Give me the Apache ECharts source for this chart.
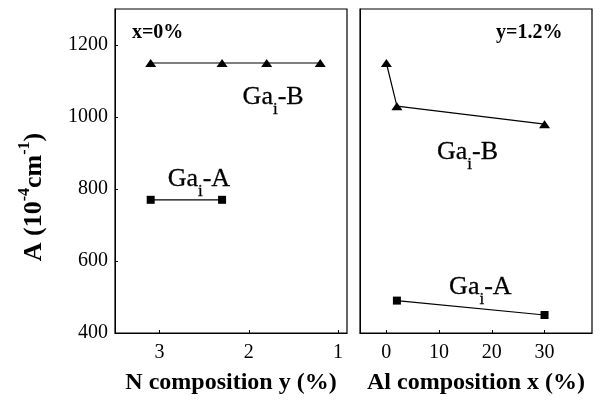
<!DOCTYPE html>
<html><head><meta charset="utf-8">
<script src="https://cdn.jsdelivr.net/npm/echarts@6/dist/echarts.min.js"></script>
<style>html,body{margin:0;padding:0;background:#fff}#c{width:606px;height:406px}</style>
</head><body><div id="c"></div>
<script>
// Left panel: x = 0 %, varying N composition y (%)
const leftB_x = [3.1, 2.3, 1.8, 1.2];
const leftB_y = [1150, 1150, 1150, 1150];
const leftA_x = [3.1, 2.3];
const leftA_y = [770, 770];
// Right panel: y = 1.2 %, varying Al composition x (%)
const rightB_x = [0, 2, 30];
const rightB_y = [1150, 1030, 980];
const rightA_x = [2, 30];
const rightA_y = [490, 450];
const yTicks = [400, 600, 800, 1000, 1200];
const leftXTicks = [3, 2, 1];
const rightXTicks = [0, 10, 20, 30];

const F = 'Liberation Serif';
const zip = (a, b) => a.map((v, i) => [v, b[i]]);
const line = (xi, data, sym, size) => ({
  type: 'line', xAxisIndex: xi, yAxisIndex: xi, data, symbol: sym, symbolSize: size,
  itemStyle: {color: '#000', opacity: 1}, lineStyle: {color: '#000', width: 1.2}, z: 3
});
const gaRich = {
  n: {fontFamily: F, fontSize: 26, color: '#000', lineHeight: 30, verticalAlign: 'bottom',
      textBorderColor: '#000', textBorderWidth: 0.3},
  s: {fontFamily: F, fontSize: 17, color: '#000', lineHeight: 30, verticalAlign: 'bottom', padding: [0, 0, -8, 0],
      textBorderColor: '#000', textBorderWidth: 0.3}
};
const ann = (xi, x, y, text, pos, rich, style) => ({
  type: 'scatter', xAxisIndex: xi, yAxisIndex: xi, symbolSize: 0, silent: true,
  data: [[x, y]],
  label: Object.assign({show: true, position: pos, distance: 0, formatter: text, rich: rich, color: '#000', opacity: 1}, style || {})
});

const axisCommon = {
  axisLine: {show: true, onZero: false, lineStyle: {color: '#000', width: 1}},
  axisTick: {show: true, inside: true, length: 3, lineStyle: {color: '#000'}},
  splitLine: {show: false},
  axisLabel: {fontFamily: F, fontSize: 20, color: '#000', formatter: v => String(v)}
};
const titleStyle = {fontFamily: F, fontSize: 24, fontWeight: 'bold', color: '#000'};

const chart = echarts.init(document.getElementById('c'));
chart.setOption({
  animation: false,
  grid: [
    {left: 115, top: 9, width: 232, height: 324, show: true, borderColor: '#000', borderWidth: 1.2},
    {left: 360, top: 9, width: 232, height: 324, show: true, borderColor: '#000', borderWidth: 1.2}
  ],
  xAxis: [
    Object.assign({}, axisCommon, {
      gridIndex: 0, type: 'value', min: 0.9, max: 3.5, inverse: true,
      axisLabel: Object.assign({}, axisCommon.axisLabel, {margin: 10, customValues: leftXTicks}),
      axisTick: Object.assign({}, axisCommon.axisTick, {customValues: leftXTicks}),
      name: 'N composition y (%)', nameLocation: 'middle', nameGap: 38,
      nameTextStyle: titleStyle
    }),
    Object.assign({}, axisCommon, {
      gridIndex: 1, type: 'value', min: -5, max: 39,
      axisLabel: Object.assign({}, axisCommon.axisLabel, {margin: 10, customValues: rightXTicks}),
      axisTick: Object.assign({}, axisCommon.axisTick, {customValues: rightXTicks}),
      name: 'Al composition x (%)', nameLocation: 'middle', nameGap: 38,
      nameTextStyle: titleStyle
    })
  ],
  yAxis: [
    Object.assign({}, axisCommon, {
      gridIndex: 0, type: 'value', min: 400, max: 1300,
      axisLabel: Object.assign({}, axisCommon.axisLabel, {margin: 7, customValues: yTicks}),
      axisTick: Object.assign({}, axisCommon.axisTick, {customValues: yTicks}),
      name: '{t|A (10}{p|-4}{t|cm}{p|-1}{t|)}', nameLocation: 'middle', nameGap: 68, nameRotate: 90,
      nameTextStyle: {
        padding: [0, 52, 0, 0],
        rich: {
          t: {fontFamily: F, fontSize: 26, fontWeight: 'bold', color: '#000', lineHeight: 30, verticalAlign: 'bottom'},
          p: {fontFamily: F, fontSize: 16, fontWeight: 'bold', color: '#000', lineHeight: 30, verticalAlign: 'top', padding: [0, 0, 8, 0]}
        }
      }
    }),
    Object.assign({}, axisCommon, {
      gridIndex: 1, type: 'value', min: 400, max: 1300,
      axisLabel: {show: false}, axisTick: {show: false}
    })
  ],
  series: [
    line(0, zip(leftB_x, leftB_y), 'triangle', [11, 8]),
    line(0, zip(leftA_x, leftA_y), 'rect', 8),
    line(1, zip(rightB_x, rightB_y), 'triangle', [11, 8]),
    line(1, zip(rightA_x, rightA_y), 'rect', 8),
    ann(0, 2.07, 1061, '{n|Ga}{s|i}{n|-B}', 'right', gaRich),
    ann(0, 2.91, 833, '{n|Ga}{s|i}{n|-A}', 'right', gaRich),
    ann(1, 9.6, 908, '{n|Ga}{s|i}{n|-B}', 'right', gaRich),
    ann(1, 11.9, 533, '{n|Ga}{s|i}{n|-A}', 'right', gaRich),
    ann(0, 3.31, 1233, 'x=0%', 'right', null, {fontFamily: F, fontSize: 20, fontWeight: 'bold'}),
    ann(1, 33.4, 1233, 'y=1.2%', 'left', null, {fontFamily: F, fontSize: 20, fontWeight: 'bold'})
  ]
});
</script></body></html>
